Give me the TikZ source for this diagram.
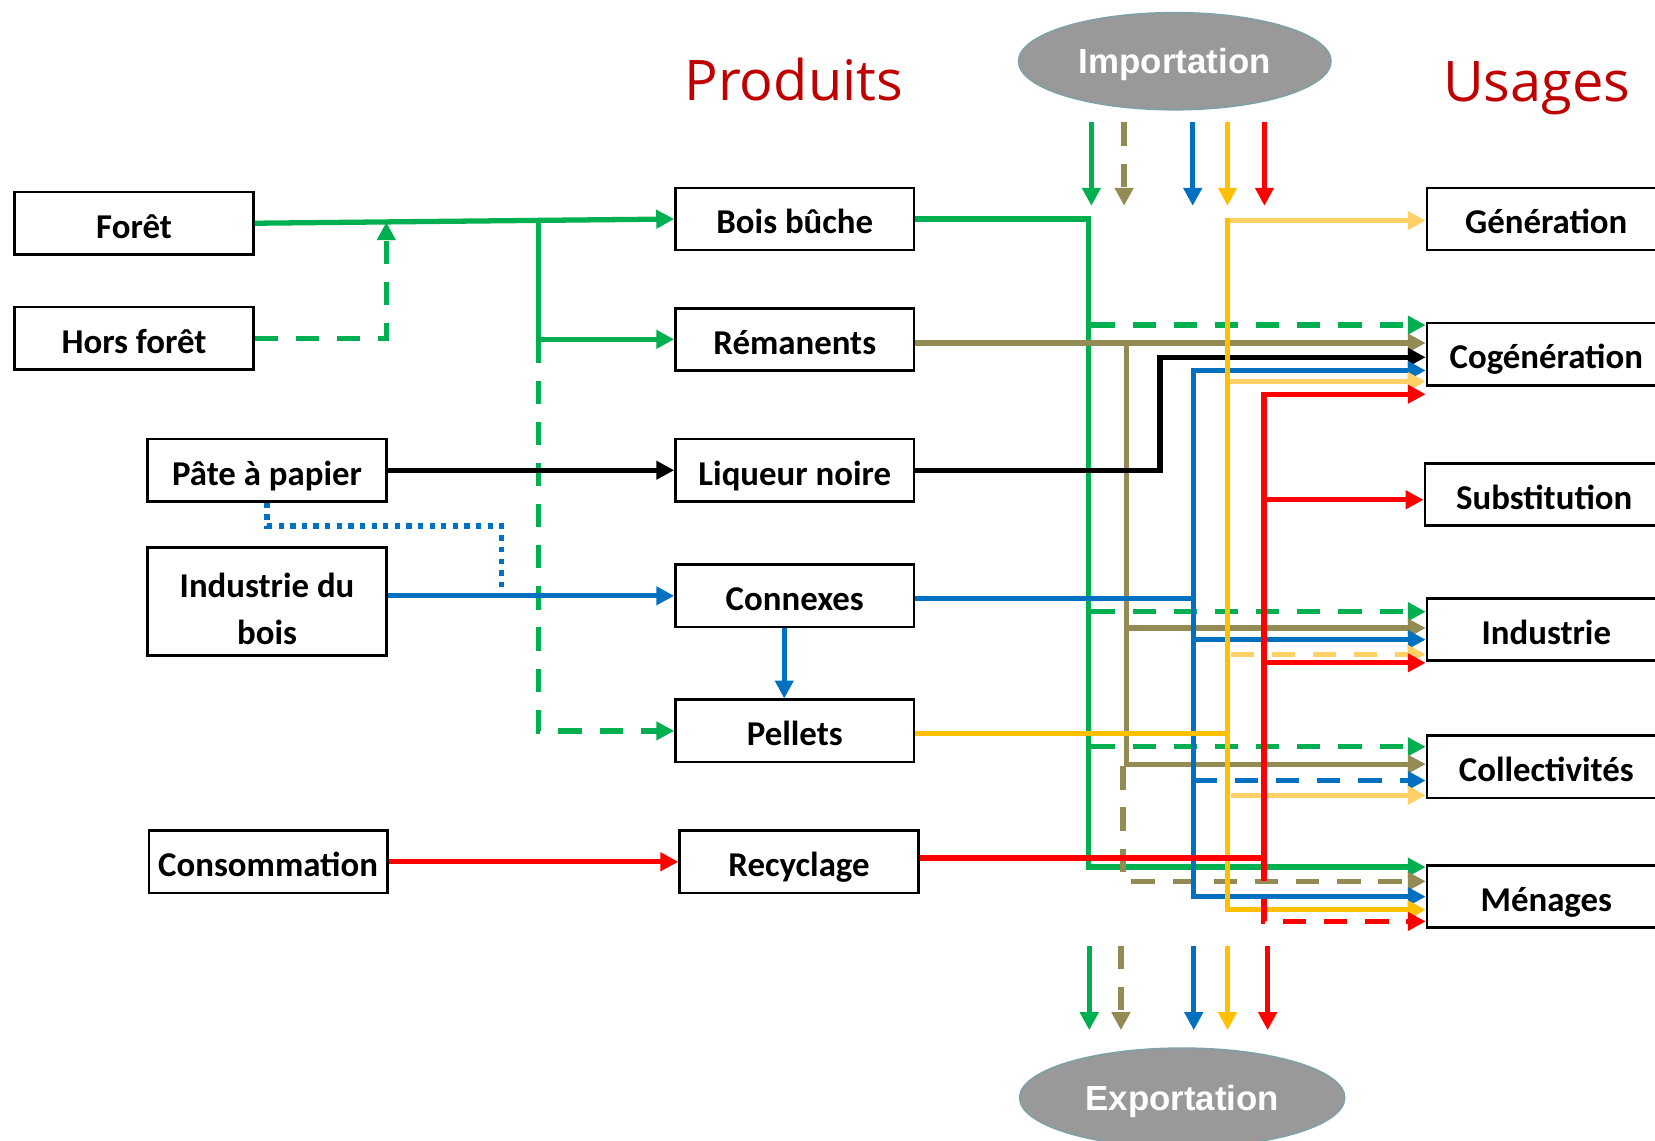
\documentclass[tikz,border=0pt]{standalone}
\usepackage{fontspec}
\setmainfont{Carlito}
\newfontfamily\titlefont{Open Sans}
\newfontfamily\ellfont{Liberation Sans}
\usetikzlibrary{arrows.meta,shapes.geometric}
\definecolor{cG}{HTML}{00B050}
\definecolor{cO}{HTML}{948A54}
\definecolor{cB}{HTML}{0070C0}
\definecolor{cY}{HTML}{FFC000}
\definecolor{cL}{HTML}{FFD066}
\definecolor{cR}{HTML}{FF0000}
\definecolor{cT}{HTML}{C00000}
\definecolor{cE}{HTML}{999999}
\definecolor{cEb}{HTML}{7FA0A6}
\begin{document}
\begin{tikzpicture}[x=1pt,y=-1pt,
  box/.style={draw=black,line width=2.5pt,fill=white,minimum width=226pt,minimum height=59pt,inner sep=0pt,font=\fontsize{33}{45}\selectfont\bfseries,text height=28pt,text depth=0pt},
  flow/.style={line width=5pt},
  tip/.style={-{Triangle[length=17pt,width=17pt]}},
  dsh/.style={dash pattern=on 22pt off 17pt},
  ell/.style={ellipse,fill=cE,draw=cEb,line width=1.5pt,text=white,font=\ellfont\fontsize{33}{40}\selectfont\bfseries,inner sep=0pt,text height=23.6pt,text depth=0pt},
  ttl/.style={text=cT,font=\titlefont\fontsize{53}{60}\selectfont,inner sep=0pt,anchor=base}]
\useasboundingbox (0,0) rectangle (1568,1081);

% titles
\node[ttl] (prod) at (752,95) {Produits};
\node[ttl] (usa) at (1456,96) {Usages};

% ellipses
\node[ell,minimum width=296pt,minimum height=92pt] (imp) at (1113,58) {Importation};
\node[ell,minimum width=308pt,minimum height=94pt] (exp) at (1120,1040) {Exportation};

% left column
\node[box] (foret) at (127,211.5) {Forêt};
\node[box] (hors) at (127,320.5) {Hors forêt};
\node[box] (pate) at (253,445.5) {Pâte à papier};
\node[box,minimum height=102pt,text height=,text depth=,align=center] (indus) at (253,570) {\rule{0pt}{37pt}Industrie du\\bois};
\node[box] (conso) at (254,816.5) {Consommation};

% middle column
\node[box] (bois) at (753,207.5) {Bois bûche};
\node[box] (reman) at (753,321.5) {Rémanents};
\node[box] (liq) at (753,445.5) {Liqueur noire};
\node[box] (conn) at (753,564.5) {Connexes};
\node[box] (pell) at (753,692.5) {Pellets};
\node[box] (recy) at (757,816.5) {Recyclage};

% right column
\node[box] (gen) at (1465,207.5) {Génération};
\node[box] (cog) at (1465,335.5) {Cogénération};
\node[box] (sub) at (1463,468.5) {Substitution};
\node[box] (ind) at (1465,596.5) {Industrie};
\node[box] (col) at (1465,726.5) {Collectivités};
\node[box] (men) at (1465,849.5) {Ménages};

% left connectors
\draw[flow,cG,tip] (foret.east) -- (bois.west);
\coordinate (jh) at (366,210.5);
\draw[flow,cG,dsh,tip] (hors.east) -| (jh);
\coordinate (jb) at (510,209.5);
\draw[flow,cG,tip] (jb) |- (reman.west);
\draw[flow,cG,dsh,tip] (jb |- reman.west) |- (pell.west);
\draw[flow,black,tip] (pate.east) -- (liq.west);
\draw[flow,cB,tip] (indus.east |- conn.west) -- (conn.west);
\coordinate (jd) at (475,563);
\draw[flow,cB,dash pattern=on 5pt off 6pt] (pate.south) -- ++(0,22) -| (jd);
\draw[flow,cB,tip] ([xshift=-10pt]conn.south) -- ([xshift=-10pt]pell.north);
\draw[flow,cR,tip] (conso.east) -- (recy.west);

% green
\draw[flow,cG,tip] (bois.east) -| (1031,821.5) -- (men.west |- 0,821.5);
\draw[flow,cG,dsh,tip] (1034,308) -- (cog.west |- 0,308);
\draw[flow,cG,dsh,tip] (1034,579.5) -- (ind.west |- 0,579.5);
\draw[flow,cG,dsh,tip] (1034,707.5) -- (col.west |- 0,707.5);

% olive
\draw[flow,cO,tip] (reman.east |- 0,325) -- (cog.west |- 0,325);
\draw[flow,cO,tip] (1067,325) |- (col.west |- 0,724);
\draw[flow,cO,tip] (1067,595) -- (ind.west |- 0,595);
\draw[flow,cO,dsh,tip] (1064,726) |- (men.west |- 0,835);

% black
\draw[flow,black,tip] (liq.east) -| (1099,338.5) -- (cog.west |- 0,338.5);

% blue
\draw[flow,cB,tip] (conn.east |- 0,567) -| (1131,351) -- (cog.west |- 0,351);
\draw[flow,cB,tip] (1131,567) |- (men.west |- 0,849.5);
\draw[flow,cB,tip] (1131,606) -- (ind.west |- 0,606);
\draw[flow,cB,dsh,tip] (1131,739.5) -- (col.west |- 0,739.5);

% yellow
\draw[flow,cL,tip] (1163,209) -- (gen.west |- 0,209);
\draw[flow,cL,tip] (1165,361.5) -- (cog.west |- 0,361.5);
\draw[flow,cL,dsh,tip] (1166,620) -- (ind.west |- 0,620);
\draw[flow,cL,tip] (1166,753.5) -- (col.west |- 0,753.5);
\draw[flow,cY] (pell.east |- 0,695) -- (1163,695);
\draw[flow,cY,tip] (1163,207) |- (men.west |- 0,862);

% red
\draw[flow,cR] (recy.east |- 0,813) -- (1197.5,813);
\draw[flow,cR,tip] (1197.5,813) |- (cog.west |- 0,373.5);
\draw[flow,cR,tip] (1197.5,473.5) -- (sub.west |- 0,473.5);
\draw[flow,cR,tip] (1197.5,628) -- (ind.west |- 0,628);
\draw[flow,cR,dsh,tip] (1197.5,813) |- (men.west |- 0,873);

% import / export arrows
\foreach \x/\c/\s [count=\i] in {1034/cG/, 1065/cO/dsh, 1130/cB/, 1163/cY/, 1198/cR/} {
  \coordinate (ia\i) at (\x,116);
  \coordinate (ib\i) at (\x,195);
  \draw[flow,\c,tip,\s] (ia\i) -- (ib\i);
}
\foreach \x/\c/\s [count=\i] in {1032/cG/, 1062/cO/dsh, 1131/cB/, 1163/cY/, 1201/cR/} {
  \coordinate (ea\i) at (\x,896);
  \coordinate (eb\i) at (\x,976);
  \draw[flow,\c,tip,\s] (ea\i) -- (eb\i);
}
\end{tikzpicture}
\end{document}
